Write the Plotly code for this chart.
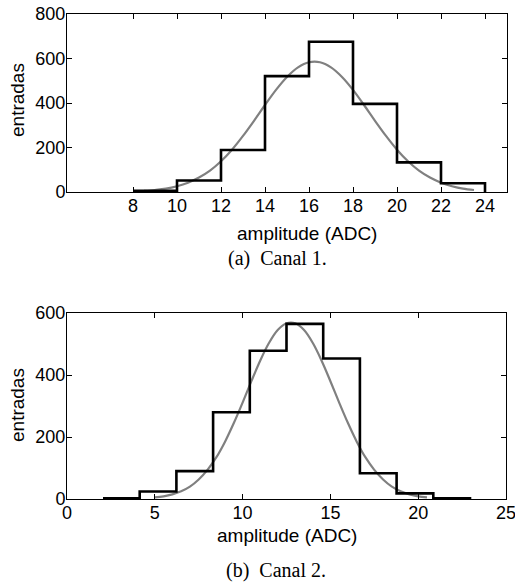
import plotly.graph_objects as go

# ---- Data: Canal 1 ----
edges_1 = [8, 10, 12, 14, 16, 18, 20, 22, 24]
counts_1 = [5, 52, 189, 521, 675, 396, 133, 39]
fit_x_1 = [8.5, 9, 9.5, 10, 10.5, 11, 11.5, 12, 12.5, 13, 13.5, 14, 14.5, 15, 15.5, 16,
           16.5, 17, 17.5, 18, 18.5, 19, 19.5, 20, 20.5, 21, 21.5, 22, 22.5, 23, 23.5]
fit_y_1 = [5, 9, 15, 26, 42, 65, 96, 138, 190, 252, 320, 391, 459, 517, 560, 583,
           583, 560, 517, 459, 391, 320, 252, 190, 138, 96, 65, 42, 26, 15, 9]
xticks_1 = [8, 10, 12, 14, 16, 18, 20, 22, 24]
yticks_1 = [0, 200, 400, 600, 800]

# ---- Data: Canal 2 ----
edges_2 = [2.05, 4.14, 6.23, 8.32, 10.41, 12.5, 14.59, 16.68, 18.77, 20.86, 22.95]
counts_2 = [2, 24, 90, 280, 478, 565, 453, 83, 18, 2]
fit_x_2 = [5, 5.5, 6, 6.5, 7, 7.5, 8, 8.5, 9, 9.5, 10, 10.5, 11, 11.5, 12, 12.5,
           13, 13.5, 14, 14.5, 15, 15.5, 16, 16.5, 17, 17.5, 18, 18.5, 19, 19.5, 20, 20.5]
fit_y_2 = [5, 8.5, 15, 25, 40, 63, 94, 134, 185, 245, 311, 380, 446, 503, 545, 567,
           567, 545, 503, 446, 380, 311, 245, 185, 134, 94, 63, 40, 25, 15, 8.5, 5]
xticks_2 = [0, 5, 10, 15, 20, 25]
yticks_2 = [0, 200, 400, 600]

GRAY = "#808080"
AXFONT = dict(family="Liberation Sans, Arial, sans-serif", size=18, color="black")
LBLFONT = dict(family="Liberation Sans, Arial, sans-serif", size=19, color="black")
CAPFONT = dict(family="Liberation Serif, Times New Roman, serif", size=20, color="black")

fig = go.Figure()

# panel 1
fig.add_trace(go.Scatter(x=fit_x_1, y=fit_y_1, mode="lines", line=dict(color=GRAY, width=2.2, shape="spline"),
                         xaxis="x", yaxis="y", showlegend=False, hoverinfo="skip"))
fig.add_trace(go.Scatter(x=edges_1, y=counts_1 + [0], mode="lines", line=dict(color="black", width=2.6, shape="hv"),
                         xaxis="x", yaxis="y", showlegend=False))
# panel 2
fig.add_trace(go.Scatter(x=fit_x_2, y=fit_y_2, mode="lines", line=dict(color=GRAY, width=2.2, shape="spline"),
                         xaxis="x2", yaxis="y2", showlegend=False, hoverinfo="skip"))
fig.add_trace(go.Scatter(x=edges_2, y=counts_2 + [0], mode="lines", line=dict(color="black", width=2.6, shape="hv"),
                         xaxis="x2", yaxis="y2", showlegend=False))

W, H = 515, 582
def px(x):
    return x / W
def py(y):
    return 1 - y / H

axcommon = dict(showline=True, linecolor="black", linewidth=1, mirror="ticks", ticks="inside",
                ticklen=5, tickcolor="black", tickwidth=1, showgrid=False, zeroline=False,
                tickfont=AXFONT, automargin=False, ticklabeloverflow="allow", ticklabelstandoff=-3)

fig.update_layout(
    width=W, height=H, margin=dict(l=0, r=0, t=0, b=0, autoexpand=False),
    paper_bgcolor="white", plot_bgcolor="white",
    xaxis=dict(domain=[px(67), px(507)], range=[5, 25], tickvals=xticks_1, anchor="y", **axcommon),
    yaxis=dict(domain=[py(192), py(14)], range=[0, 800], tickvals=yticks_1, anchor="x", **axcommon),
    xaxis2=dict(domain=[px(67), px(506)], range=[0, 25], tickvals=xticks_2, anchor="y2", **axcommon),
    yaxis2=dict(domain=[py(499), py(313)], range=[0, 600], tickvals=yticks_2, anchor="x2", **axcommon),
)

ann = [
    dict(text="amplitude (ADC)", x=px(307), y=py(233), font=LBLFONT),
    dict(text="entradas", x=px(17), y=py(100), font=LBLFONT, textangle=-90),
    dict(text="(a)  Canal 1.", x=px(277), y=py(258), font=CAPFONT),
    dict(text="amplitude (ADC)", x=px(287), y=py(535), font=LBLFONT),
    dict(text="entradas", x=px(17), y=py(405), font=LBLFONT, textangle=-90),
    dict(text="(b)  Canal 2.", x=px(276), y=py(570), font=CAPFONT),
]
for a in ann:
    fig.add_annotation(xref="paper", yref="paper", xanchor="center", yanchor="middle", showarrow=False, **a)

# remove the browser's default 8px body margin so the figure fills the window exactly
fig.write_html("out.html", config={"displayModeBar": False},
               post_script="document.body.style.margin='0';document.body.style.overflow='hidden';")
